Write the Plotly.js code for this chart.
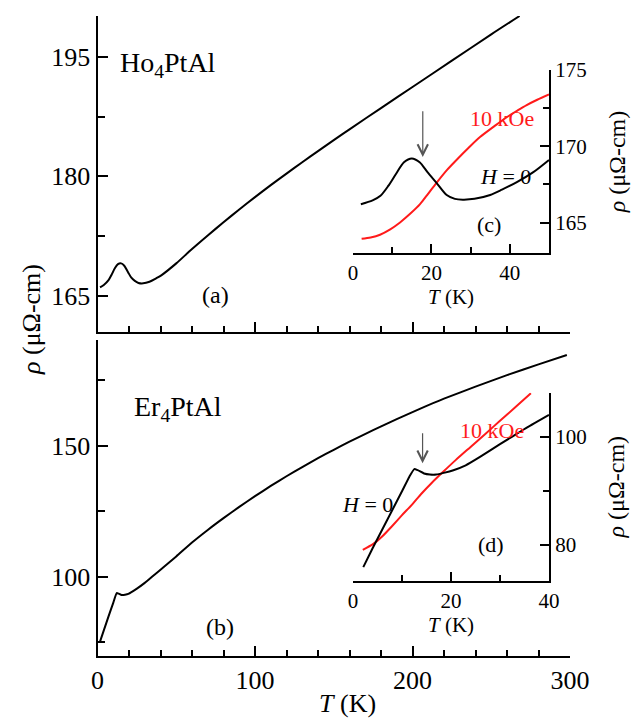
<!DOCTYPE html>
<html>
<head>
<meta charset="utf-8">
<script src="https://cdn.plot.ly/plotly-3.0.1.min.js"></script>
<style>html,body{margin:0;padding:0;background:#fff;}#chart{width:635px;height:720px;}</style>
</head>
<body>
<div id="chart"></div>
<script>
// ---- Data ----
// (a) Ho4PtAl, main panel, H = 0
const hoT   = [1.6, 4, 7, 9, 11, 13, 15, 17, 19.4, 21.5, 23.7, 26, 29, 33, 37, 40.5, 50, 60, 70, 80, 90, 100, 110, 120, 130, 140, 150, 160, 180, 200, 225, 250, 268];
const hoRho = [166.1, 166.4, 167.0, 167.7, 168.5, 169.0, 169.1, 168.8, 168.0, 167.3, 166.9, 166.65, 166.6, 166.8, 167.2, 167.6, 169.1, 170.9, 172.6, 174.25, 175.85, 177.4, 178.9, 180.35, 181.77, 183.17, 184.55, 185.9, 188.56, 191.2, 194.5, 197.8, 200.1];
// (b) Er4PtAl, main panel, H = 0
const erT   = [1.6, 4, 7, 10, 12.2, 13.5, 15.3, 17.5, 19.6, 25, 30, 35, 40, 50, 60, 70, 80, 90, 100, 110, 120, 130, 140, 150, 160, 175, 190, 205, 220, 240, 260, 280, 298];
const erRho = [75.2, 79.5, 84.8, 90.0, 93.7, 93.5, 93.0, 93.1, 93.4, 95.4, 97.6, 100.1, 102.6, 107.7, 113.0, 117.8, 122.3, 126.6, 130.7, 134.6, 138.3, 141.8, 145.2, 148.4, 151.5, 155.9, 160.1, 164.1, 167.9, 172.5, 176.9, 181.0, 184.6];
// (c) Ho4PtAl inset
const hoInT0   = [2, 5, 7, 9, 11, 13, 15, 17, 19, 21.3, 23.9, 26, 28, 31, 35, 38, 41.8, 46, 50];
const hoInRho0 = [166.2, 166.45, 166.75, 167.4, 168.2, 168.95, 169.2, 168.95, 168.3, 167.6, 166.8, 166.55, 166.5, 166.55, 166.8, 167.15, 167.65, 168.3, 169.1];
const hoInT10   = [2.2, 4.5, 6.9, 9.5, 12, 14.5, 17.1, 19.2, 21.3, 24, 26.4, 29.5, 32.4, 36, 39.2, 42, 44.3, 47, 50];
const hoInRho10 = [163.93, 164.02, 164.2, 164.55, 165.0, 165.55, 166.2, 166.9, 167.6, 168.45, 169.1, 169.9, 170.6, 171.3, 171.9, 172.35, 172.7, 173.05, 173.4];
// (d) Er4PtAl inset
const erInT0   = [2.1, 4, 6, 8, 10, 11.5, 12.5, 13.2, 14.5, 15.7, 17, 18.5, 20.5, 23, 26, 30, 35, 40];
const erInRho0 = [75.9, 79.4, 82.9, 86.4, 89.9, 92.6, 94.0, 93.8, 93.2, 93.0, 93.0, 93.3, 93.8, 94.7, 96.3, 98.6, 101.4, 104.0];
const erInT10   = [2, 4, 5, 6, 8, 10, 12, 14, 16, 18.4, 21, 24, 27, 30, 33, 36.3];
const erInRho10 = [79.1, 80.1, 80.8, 81.6, 83.5, 85.5, 87.4, 89.5, 91.4, 93.5, 95.7, 98.1, 100.5, 102.9, 105.3, 108.0];

// tick values
const mainXTicks = [0, 100, 200, 300];
const hoYTicks = [165, 180, 195];
const erYTicks = [100, 150];
const cXTicks = [0, 20, 40];
const cYTicks = [165, 170, 175];
const dXTicks = [0, 20, 40];
const dYTicks = [80, 100];

const FONT = 'Liberation Serif';
const black = '#000000';
const red = '#ff1a1a';

const traces = [
  {x: hoT, y: hoRho, xaxis: 'x', yaxis: 'y', mode: 'lines', line: {color: black, width: 2, shape: 'spline', smoothing: 0.8}, hoverinfo: 'skip'},
  {x: erT, y: erRho, xaxis: 'x2', yaxis: 'y2', mode: 'lines', line: {color: black, width: 2, shape: 'spline', smoothing: 0.5}, hoverinfo: 'skip'},
  {x: hoInT10, y: hoInRho10, xaxis: 'x3', yaxis: 'y3', mode: 'lines', line: {color: red, width: 2, shape: 'spline', smoothing: 0.8}, hoverinfo: 'skip'},
  {x: hoInT0, y: hoInRho0, xaxis: 'x3', yaxis: 'y3', mode: 'lines', line: {color: black, width: 2, shape: 'spline', smoothing: 0.8}, hoverinfo: 'skip'},
  {x: erInT10, y: erInRho10, xaxis: 'x4', yaxis: 'y4', mode: 'lines', line: {color: red, width: 2, shape: 'spline', smoothing: 0.6}, hoverinfo: 'skip'},
  {x: erInT0, y: erInRho0, xaxis: 'x4', yaxis: 'y4', mode: 'lines', line: {color: black, width: 2, shape: 'spline', smoothing: 0.4}, hoverinfo: 'skip'}
];

function px2x(p) { return p / 635; }
function px2y(p) { return 1 - p / 720; }

const baseAxis = {
  showline: true, linecolor: black, linewidth: 2, mirror: false,
  ticks: 'inside', tickcolor: black, tickwidth: 2, ticklen: 10,
  showgrid: false, zeroline: false, fixedrange: true,
  tickfont: {family: FONT, size: 26, color: black}
};

function ax(extra) { return Object.assign({}, baseAxis, extra); }

const mainXDomain = [px2x(97.5), px2x(570)];
const insetXDomain = [px2x(353), px2x(549)];

const layout = {
  width: 635, height: 720,
  margin: {l: 0, r: 0, t: 0, b: 0},
  paper_bgcolor: '#ffffff', plot_bgcolor: 'rgba(0,0,0,0)',
  showlegend: false,
  font: {family: FONT, color: black},
  xaxis: ax({domain: mainXDomain, range: [0, 300], anchor: 'y', tickvals: mainXTicks, showticklabels: false,
    minor: {dtick: 20, tick0: 0, ticks: 'inside', ticklen: 6, tickwidth: 2, tickcolor: black}}),
  yaxis: ax({domain: [px2y(332), px2y(16)], range: [160.5, 200.1], anchor: 'x', tickvals: hoYTicks,
    minor: {dtick: 7.5, tick0: 165, ticks: 'inside', ticklen: 7, tickwidth: 2, tickcolor: black}}),
  xaxis2: ax({domain: mainXDomain, range: [0, 300], anchor: 'y2', tickvals: mainXTicks,
    minor: {dtick: 20, tick0: 0, ticks: 'inside', ticklen: 6, tickwidth: 2, tickcolor: black}}),
  yaxis2: ax({domain: [px2y(656), px2y(340)], range: [69.7, 190.3], anchor: 'x2', tickvals: erYTicks,
    minor: {dtick: 25, tick0: 75, ticks: 'inside', ticklen: 7, tickwidth: 2, tickcolor: black}}),
  xaxis3: ax({domain: insetXDomain, range: [0, 50], anchor: 'y3', tickvals: cXTicks, ticklen: 9,
    tickfont: {family: FONT, size: 21, color: black},
    minor: {dtick: 10, tick0: 0, ticks: 'inside', ticklen: 6, tickwidth: 2, tickcolor: black},
    title: {text: '<i>T</i> (K)', font: {family: FONT, size: 21, color: black}, standoff: 0}}),
  yaxis3: ax({domain: [px2y(253), px2y(70)], range: [163.0, 175.0], anchor: 'x3', side: 'right', tickvals: cYTicks, ticklen: 9,
    tickfont: {family: FONT, size: 21, color: black},
    minor: {dtick: 2.5, tick0: 165, ticks: 'inside', ticklen: 6, tickwidth: 2, tickcolor: black},
    title: {text: '<i>ρ</i> (μΩ-cm)', font: {family: FONT, size: 24, color: black}, standoff: 22}}),
  xaxis4: ax({domain: insetXDomain, range: [0, 40], anchor: 'y4', tickvals: dXTicks, ticklen: 9,
    tickfont: {family: FONT, size: 21, color: black},
    minor: {dtick: 10, tick0: 0, ticks: 'inside', ticklen: 6, tickwidth: 2, tickcolor: black},
    title: {text: '<i>T</i> (K)', font: {family: FONT, size: 21, color: black}, standoff: 0}}),
  yaxis4: ax({domain: [px2y(580.7), px2y(392.7)], range: [73.4, 108.1], anchor: 'x4', side: 'right', tickvals: dYTicks, ticklen: 9,
    tickfont: {family: FONT, size: 21, color: black},
    minor: {dtick: 10, tick0: 80, ticks: 'inside', ticklen: 6, tickwidth: 2, tickcolor: black},
    title: {text: '<i>ρ</i> (μΩ-cm)', font: {family: FONT, size: 24, color: black}, standoff: 22}}),
  annotations: [
    {xref: 'paper', yref: 'paper', x: px2x(31), y: px2y(320), text: '<i>ρ</i> (μΩ-cm)', textangle: -90, showarrow: false,
      font: {family: FONT, size: 26, color: black}, xanchor: 'center', yanchor: 'middle'},
    {xref: 'paper', yref: 'paper', x: px2x(347), y: px2y(703), text: '<i>T</i> (K)', showarrow: false,
      font: {family: FONT, size: 26, color: black}, xanchor: 'center', yanchor: 'middle'},
    {xref: 'x', yref: 'y', x: 13, y: 194.0, text: 'Ho<sub>4</sub>PtAl', showarrow: false, xanchor: 'left', yanchor: 'middle',
      font: {family: FONT, size: 28, color: black}},
    {xref: 'x', yref: 'y', x: 75, y: 165.1, text: '(a)', showarrow: false, xanchor: 'center', yanchor: 'middle',
      font: {family: FONT, size: 24, color: black}},
    {xref: 'x2', yref: 'y2', x: 21.9, y: 164.3, text: 'Er<sub>4</sub>PtAl', showarrow: false, xanchor: 'left', yanchor: 'middle',
      font: {family: FONT, size: 28, color: black}},
    {xref: 'x2', yref: 'y2', x: 78, y: 80.9, text: '(b)', showarrow: false, xanchor: 'center', yanchor: 'middle',
      font: {family: FONT, size: 24, color: black}},
    {xref: 'x3', yref: 'y3', x: 38.1, y: 171.84, text: '10 kOe', showarrow: false, xanchor: 'center', yanchor: 'middle',
      font: {family: FONT, size: 22, color: red}},
    {xref: 'x3', yref: 'y3', x: 38.9, y: 168.0, text: '<i>H</i> = 0', showarrow: false, xanchor: 'center', yanchor: 'middle',
      font: {family: FONT, size: 22, color: black}},
    {xref: 'x3', yref: 'y3', x: 34.6, y: 164.85, text: '(c)', showarrow: false, xanchor: 'center', yanchor: 'middle',
      font: {family: FONT, size: 22, color: black}},
    {xref: 'x4', yref: 'y4', x: 28.3, y: 101.2, text: '10 kOe', showarrow: false, xanchor: 'center', yanchor: 'middle',
      font: {family: FONT, size: 22, color: red}},
    {xref: 'x4', yref: 'y4', x: 2.96, y: 87.4, text: '<i>H</i> = 0', showarrow: false, xanchor: 'center', yanchor: 'middle',
      font: {family: FONT, size: 22, color: black}},
    {xref: 'x4', yref: 'y4', x: 28.1, y: 80.0, text: '(d)', showarrow: false, xanchor: 'center', yanchor: 'middle',
      font: {family: FONT, size: 22, color: black}},
    {xref: 'x3', yref: 'y3', x: 17.8, y: 169.3, ax: 17.8, ay: 172.4, axref: 'x3', ayref: 'y3', text: '', showarrow: true,
      arrowhead: 5, arrowsize: 1.7, arrowwidth: 1.2, arrowcolor: '#555555'},
    {xref: 'x4', yref: 'y4', x: 14.2, y: 95.1, ax: 14.2, ay: 100.9, axref: 'x4', ayref: 'y4', text: '', showarrow: true,
      arrowhead: 5, arrowsize: 1.7, arrowwidth: 1.2, arrowcolor: '#555555'}
  ]
};

Plotly.newPlot('chart', traces, layout, {staticPlot: true, displayModeBar: false});
</script>
</body>
</html>
